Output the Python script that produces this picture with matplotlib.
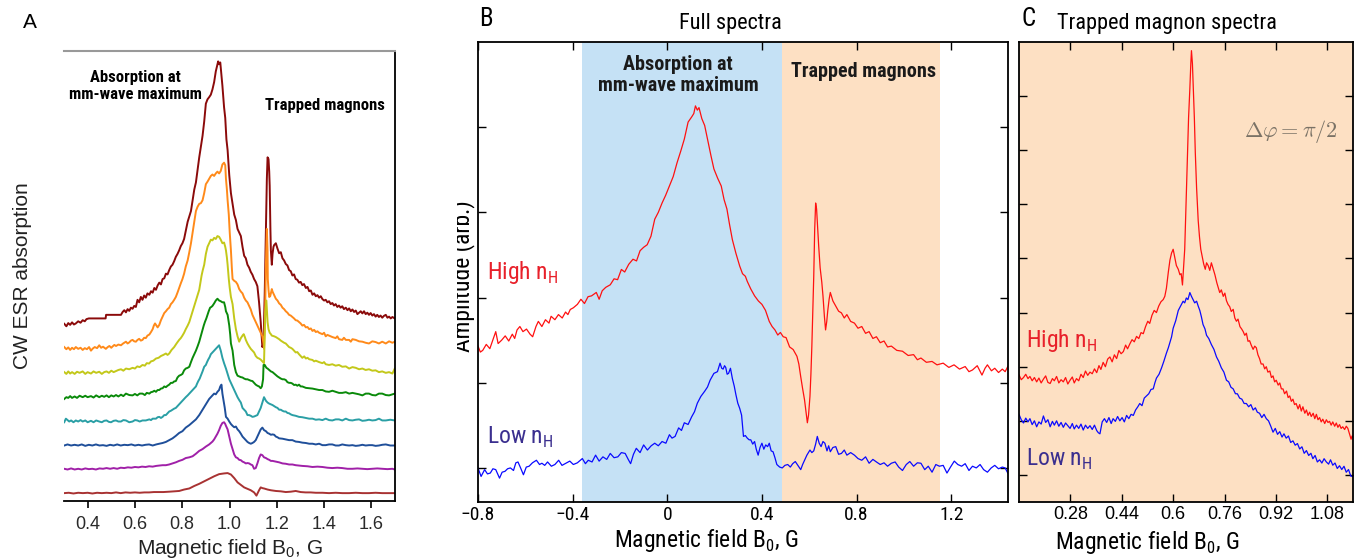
import numpy as np
import matplotlib
matplotlib.use('Agg')
import matplotlib.pyplot as plt
from matplotlib.transforms import Bbox

# ---------------- Data ----------------
# Panel A: CW ESR absorption traces (field in G, arbitrary offset amplitude)
a_fields_ticks = [0.4, 0.6, 0.8, 1.0, 1.2, 1.4, 1.6]
a_tick_labels = ['0.4', '0.6', '0.8', '1.0', '1.2', '1.4', '1.6']

a_trace_1 = [(0.301, 4.95), (0.310, 4.88), (0.318, 4.97), (0.326, 4.92), (0.334, 4.99), (0.342, 4.93),
             (0.350, 4.96), (0.360, 5.02), (0.370, 4.98), (0.379, 5.05), (0.388, 5.02), (0.395, 5.08),
             (0.405, 5.10), (0.440, 5.10), (0.476, 5.10), (0.478, 5.20), (0.541, 5.20), (0.548, 5.28),
             (0.555, 5.33), (0.562, 5.27), (0.569, 5.36), (0.576, 5.31), (0.583, 5.40), (0.590, 5.37),
             (0.597, 5.45), (0.604, 5.42), (0.611, 5.62), (0.618, 5.55), (0.625, 5.70), (0.632, 5.62),
             (0.639, 5.74), (0.646, 5.68), (0.653, 5.80), (0.661, 5.76), (0.668, 5.86), (0.675, 5.82),
             (0.682, 5.95), (0.689, 5.90), (0.696, 6.02), (0.703, 6.10), (0.710, 6.05), (0.717, 6.20),
             (0.724, 6.22), (0.731, 6.35), (0.738, 6.33), (0.745, 6.45), (0.752, 6.55), (0.759, 6.60),
             (0.766, 6.70), (0.773, 6.82), (0.780, 6.90), (0.787, 7.00), (0.794, 7.12), (0.801, 7.20),
             (0.808, 7.32), (0.815, 7.55), (0.823, 7.80), (0.830, 7.95), (0.837, 8.10), (0.844, 8.40),
             (0.851, 8.70), (0.858, 8.90), (0.865, 9.25), (0.872, 9.60), (0.879, 9.90), (0.886, 10.20),
             (0.893, 10.60), (0.900, 11.10), (0.907, 11.22), (0.914, 11.28), (0.921, 11.35), (0.928, 11.50),
             (0.935, 11.70), (0.942, 12.00), (0.949, 12.20), (0.952, 12.28), (0.956, 12.20), (0.961, 12.25),
             (0.966, 11.90), (0.970, 11.60), (0.977, 11.00), (0.982, 10.70), (0.987, 10.10), (0.992, 9.80),
             (0.999, 9.10), (1.006, 8.60), (1.013, 8.30), (1.020, 8.00), (1.027, 7.85), (1.034, 7.60),
             (1.041, 7.50), (1.048, 7.40), (1.055, 7.10), (1.062, 6.85), (1.069, 6.78), (1.076, 6.60),
             (1.083, 6.52), (1.090, 6.40), (1.097, 6.32), (1.104, 6.20), (1.111, 6.12), (1.118, 6.00),
             (1.125, 5.55), (1.132, 5.00), (1.137, 4.50), (1.139, 4.30), (1.144, 4.40), (1.149, 5.80),
             (1.154, 7.50), (1.158, 9.00), (1.161, 9.60), (1.165, 9.55), (1.168, 9.20), (1.170, 8.80),
             (1.173, 7.60), (1.175, 7.00), (1.179, 6.60), (1.182, 6.90), (1.186, 7.10), (1.189, 7.15),
             (1.196, 7.20), (1.203, 7.05), (1.210, 6.92), (1.217, 6.95), (1.224, 6.78), (1.231, 6.72),
             (1.238, 6.62), (1.245, 6.58), (1.252, 6.45), (1.259, 6.42), (1.266, 6.30), (1.273, 6.33),
             (1.280, 6.20), (1.287, 6.18), (1.294, 6.10), (1.301, 6.12), (1.308, 6.03), (1.315, 6.06),
             (1.323, 5.95), (1.330, 5.98), (1.337, 5.86), (1.344, 5.88), (1.351, 5.76), (1.358, 5.80),
             (1.365, 5.72), (1.372, 5.75), (1.379, 5.68), (1.386, 5.72), (1.393, 5.64), (1.400, 5.60),
             (1.407, 5.62), (1.414, 5.55), (1.421, 5.58), (1.428, 5.50), (1.435, 5.53), (1.442, 5.46),
             (1.449, 5.50), (1.456, 5.42), (1.463, 5.46), (1.470, 5.40), (1.477, 5.44), (1.484, 5.36),
             (1.492, 5.40), (1.499, 5.33), (1.506, 5.38), (1.513, 5.30), (1.520, 5.35), (1.527, 5.28),
             (1.534, 5.32), (1.541, 5.22), (1.548, 5.26), (1.555, 5.30), (1.562, 5.24), (1.569, 5.30),
             (1.576, 5.22), (1.583, 5.26), (1.590, 5.20), (1.597, 5.25), (1.604, 5.18), (1.611, 5.22),
             (1.618, 5.15), (1.625, 5.20), (1.632, 5.14), (1.639, 5.18), (1.646, 5.12), (1.653, 5.17),
             (1.661, 5.20), (1.668, 5.12), (1.675, 5.15), (1.682, 5.10), (1.689, 5.14), (1.699, 5.10)]

a_trace_2 = [(0.301, 4.30), (0.310, 4.24), (0.318, 4.29), (0.326, 4.22), (0.334, 4.28), (0.342, 4.24),
             (0.350, 4.30), (0.360, 4.25), (0.370, 4.28), (0.379, 4.22), (0.388, 4.27), (0.397, 4.24),
             (0.406, 4.30), (0.414, 4.20), (0.422, 4.26), (0.430, 4.30), (0.440, 4.27), (0.449, 4.35),
             (0.457, 4.28), (0.465, 4.31), (0.477, 4.25), (0.485, 4.30), (0.492, 4.33), (0.500, 4.28),
             (0.506, 4.32), (0.513, 4.36), (0.520, 4.33), (0.530, 4.37), (0.541, 4.35), (0.550, 4.40),
             (0.562, 4.45), (0.569, 4.40), (0.576, 4.43), (0.583, 4.48), (0.590, 4.50), (0.597, 4.46),
             (0.604, 4.45), (0.611, 4.50), (0.618, 4.53), (0.625, 4.48), (0.632, 4.50), (0.639, 4.56),
             (0.646, 4.55), (0.653, 4.62), (0.661, 4.65), (0.668, 4.72), (0.675, 4.80), (0.680, 4.90),
             (0.685, 4.96), (0.689, 4.92), (0.696, 4.85), (0.703, 4.92), (0.710, 5.05), (0.717, 5.15),
             (0.724, 5.25), (0.731, 5.30), (0.738, 5.36), (0.745, 5.40), (0.752, 5.50), (0.759, 5.55),
             (0.766, 5.62), (0.773, 5.70), (0.780, 5.82), (0.787, 5.95), (0.794, 6.08), (0.801, 6.20),
             (0.808, 6.35), (0.815, 6.55), (0.823, 6.72), (0.830, 6.95), (0.837, 7.20), (0.844, 7.50),
             (0.851, 7.80), (0.858, 8.10), (0.865, 8.22), (0.872, 8.30), (0.879, 8.32), (0.886, 8.40),
             (0.893, 8.60), (0.900, 8.85), (0.907, 8.92), (0.914, 9.00), (0.921, 9.08), (0.928, 9.12),
             (0.935, 9.08), (0.942, 9.15), (0.949, 9.20), (0.956, 9.15), (0.963, 9.22), (0.970, 9.40),
             (0.977, 9.45), (0.982, 9.38), (0.985, 9.00), (0.989, 8.70), (0.992, 8.40), (0.997, 8.00),
             (1.001, 7.50), (1.006, 7.00), (1.010, 6.50), (1.013, 6.20), (1.020, 6.15), (1.027, 6.12),
             (1.034, 6.05), (1.041, 5.92), (1.048, 5.85), (1.055, 5.80), (1.062, 5.68), (1.069, 5.60),
             (1.076, 5.55), (1.083, 5.45), (1.090, 5.35), (1.097, 5.20), (1.104, 5.10), (1.111, 5.00),
             (1.118, 4.90), (1.125, 4.80), (1.132, 4.70), (1.139, 4.60), (1.144, 4.40), (1.146, 4.25),
             (1.151, 5.40), (1.154, 6.60), (1.158, 7.60), (1.161, 7.00), (1.162, 6.20), (1.165, 5.90),
             (1.168, 5.70), (1.172, 5.72), (1.175, 5.80), (1.179, 5.92), (1.182, 5.85), (1.189, 5.75),
             (1.196, 5.65), (1.203, 5.60), (1.210, 5.52), (1.217, 5.48), (1.224, 5.40), (1.231, 5.36),
             (1.238, 5.30), (1.245, 5.26), (1.252, 5.20), (1.259, 5.18), (1.266, 5.14), (1.273, 5.10),
             (1.280, 5.05), (1.287, 5.04), (1.294, 5.00), (1.301, 4.96), (1.308, 4.90), (1.315, 4.92),
             (1.323, 4.85), (1.330, 4.86), (1.337, 4.80), (1.344, 4.82), (1.351, 4.75), (1.358, 4.78),
             (1.365, 4.72), (1.372, 4.74), (1.379, 4.70), (1.393, 4.66), (1.400, 4.70), (1.407, 4.60),
             (1.414, 4.64), (1.421, 4.62), (1.435, 4.58), (1.449, 4.55), (1.456, 4.60), (1.463, 4.52),
             (1.477, 4.50), (1.484, 4.56), (1.492, 4.50), (1.506, 4.50), (1.513, 4.45), (1.520, 4.52),
             (1.534, 4.50), (1.548, 4.46), (1.562, 4.45), (1.576, 4.42), (1.590, 4.40), (1.604, 4.46),
             (1.618, 4.44), (1.632, 4.40), (1.646, 4.45), (1.661, 4.40), (1.675, 4.46), (1.689, 4.42),
             (1.699, 4.45)]

a_trace_3 = [(0.301, 3.60), (0.310, 3.55), (0.318, 3.62), (0.326, 3.56), (0.334, 3.60), (0.345, 3.55),
             (0.355, 3.61), (0.366, 3.58), (0.379, 3.62), (0.390, 3.55), (0.400, 3.60), (0.414, 3.56),
             (0.425, 3.62), (0.436, 3.58), (0.449, 3.61), (0.460, 3.55), (0.470, 3.60), (0.480, 3.62),
             (0.490, 3.58), (0.500, 3.64), (0.510, 3.60), (0.520, 3.63), (0.530, 3.66), (0.541, 3.68),
             (0.551, 3.64), (0.562, 3.70), (0.576, 3.68), (0.590, 3.72), (0.600, 3.70), (0.610, 3.76),
             (0.620, 3.74), (0.632, 3.80), (0.642, 3.78), (0.650, 3.85), (0.660, 3.84), (0.668, 3.90),
             (0.678, 3.92), (0.689, 3.98), (0.700, 4.00), (0.710, 4.05), (0.720, 4.08), (0.731, 4.12),
             (0.738, 4.08), (0.745, 4.12), (0.755, 4.22), (0.766, 4.30), (0.776, 4.40), (0.787, 4.50),
             (0.794, 4.55), (0.801, 4.62), (0.808, 4.70), (0.815, 4.80), (0.823, 4.90), (0.830, 5.00),
             (0.837, 5.15), (0.844, 5.30), (0.851, 5.45), (0.858, 5.60), (0.865, 5.75), (0.872, 5.90),
             (0.877, 6.10), (0.882, 6.30), (0.887, 6.45), (0.893, 6.60), (0.900, 6.90), (0.907, 7.10),
             (0.914, 7.20), (0.921, 7.30), (0.928, 7.28), (0.935, 7.35), (0.942, 7.32), (0.949, 7.40),
             (0.956, 7.38), (0.963, 7.30), (0.970, 7.20), (0.977, 7.22), (0.982, 7.10), (0.985, 7.00),
             (0.989, 6.80), (0.992, 6.60), (0.997, 6.20), (1.001, 5.95), (1.006, 5.70), (1.013, 5.50),
             (1.020, 5.10), (1.027, 4.80), (1.034, 4.60), (1.041, 4.45), (1.048, 4.55), (1.055, 4.62),
             (1.060, 4.66), (1.065, 4.58), (1.069, 4.50), (1.076, 4.40), (1.083, 4.32), (1.090, 4.25),
             (1.097, 4.20), (1.104, 4.15), (1.111, 4.05), (1.118, 4.00), (1.125, 3.98), (1.132, 3.95),
             (1.139, 3.90), (1.146, 3.85), (1.149, 4.60), (1.151, 5.20), (1.156, 5.60), (1.161, 5.00),
             (1.165, 4.80), (1.170, 4.70), (1.175, 4.66), (1.179, 4.62), (1.189, 4.60), (1.196, 4.58),
             (1.203, 4.55), (1.210, 4.52), (1.217, 4.48), (1.224, 4.45), (1.231, 4.42), (1.238, 4.40),
             (1.245, 4.35), (1.252, 4.30), (1.259, 4.28), (1.266, 4.25), (1.273, 4.20), (1.280, 4.15),
             (1.287, 4.16), (1.294, 4.10), (1.301, 4.05), (1.308, 4.00), (1.316, 4.04), (1.323, 3.98),
             (1.330, 4.00), (1.337, 3.96), (1.351, 3.94), (1.358, 3.90), (1.365, 3.92), (1.379, 3.88),
             (1.393, 3.85), (1.400, 3.88), (1.407, 3.82), (1.421, 3.80), (1.435, 3.82), (1.449, 3.78),
             (1.463, 3.80), (1.477, 3.75), (1.492, 3.76), (1.506, 3.70), (1.520, 3.74), (1.534, 3.72),
             (1.548, 3.68), (1.562, 3.70), (1.576, 3.66), (1.590, 3.68), (1.604, 3.64), (1.618, 3.65),
             (1.632, 3.60), (1.646, 3.62), (1.661, 3.58), (1.675, 3.60), (1.689, 3.56), (1.699, 3.70)]

a_trace_4 = [(0.301, 2.85), (0.310, 2.90), (0.318, 2.88), (0.326, 2.93), (0.334, 2.88), (0.345, 2.92),
             (0.355, 2.88), (0.366, 2.94), (0.379, 2.90), (0.390, 2.94), (0.400, 2.90), (0.414, 2.93),
             (0.425, 2.89), (0.436, 2.95), (0.449, 2.90), (0.460, 2.94), (0.470, 2.91), (0.480, 2.95),
             (0.490, 2.90), (0.500, 2.95), (0.510, 2.92), (0.520, 2.96), (0.530, 2.92), (0.541, 2.97),
             (0.551, 2.93), (0.562, 3.00), (0.576, 2.96), (0.590, 2.95), (0.600, 2.99), (0.610, 2.95),
             (0.620, 3.00), (0.632, 3.00), (0.642, 2.96), (0.650, 3.02), (0.661, 3.00), (0.668, 3.04),
             (0.675, 3.05), (0.682, 3.08), (0.689, 3.05), (0.696, 3.10), (0.703, 3.10), (0.710, 3.14),
             (0.717, 3.15), (0.724, 3.20), (0.731, 3.18), (0.738, 3.22), (0.745, 3.25), (0.752, 3.30),
             (0.759, 3.30), (0.766, 3.34), (0.773, 3.35), (0.780, 3.45), (0.787, 3.50), (0.794, 3.52),
             (0.801, 3.55), (0.808, 3.65), (0.815, 3.70), (0.823, 3.72), (0.830, 3.75), (0.837, 3.88),
             (0.844, 4.00), (0.851, 4.10), (0.858, 4.20), (0.865, 4.32), (0.872, 4.45), (0.879, 4.62),
             (0.886, 4.80), (0.891, 4.90), (0.896, 5.00), (0.902, 5.10), (0.907, 5.20), (0.912, 5.30),
             (0.918, 5.40), (0.923, 5.42), (0.928, 5.45), (0.935, 5.52), (0.942, 5.60), (0.949, 5.65),
             (0.956, 5.60), (0.963, 5.58), (0.970, 5.55), (0.977, 5.55), (0.982, 5.42), (0.985, 5.30),
             (0.992, 5.20), (0.999, 4.90), (1.003, 4.65), (1.006, 4.40), (1.013, 4.20), (1.020, 3.80),
             (1.027, 3.60), (1.034, 3.50), (1.041, 3.48), (1.048, 3.46), (1.055, 3.45), (1.062, 3.42),
             (1.069, 3.40), (1.076, 3.40), (1.083, 3.38), (1.090, 3.36), (1.097, 3.35), (1.104, 3.30),
             (1.111, 3.25), (1.118, 3.22), (1.125, 3.20), (1.132, 3.15), (1.137, 3.20), (1.142, 3.40),
             (1.144, 3.80), (1.149, 3.80), (1.156, 3.72), (1.161, 3.70), (1.168, 3.66), (1.175, 3.62),
             (1.182, 3.60), (1.189, 3.56), (1.196, 3.52), (1.203, 3.48), (1.210, 3.45), (1.217, 3.42),
             (1.224, 3.40), (1.231, 3.40), (1.238, 3.38), (1.245, 3.32), (1.252, 3.30), (1.259, 3.30),
             (1.266, 3.28), (1.273, 3.24), (1.280, 3.25), (1.287, 3.22), (1.294, 3.25), (1.301, 3.20),
             (1.308, 3.20), (1.323, 3.16), (1.337, 3.15), (1.351, 3.14), (1.365, 3.12), (1.379, 3.10),
             (1.393, 3.10), (1.407, 3.06), (1.421, 3.05), (1.435, 3.08), (1.449, 3.05), (1.463, 3.02),
             (1.477, 3.02), (1.492, 3.04), (1.506, 3.00), (1.520, 3.02), (1.534, 3.00), (1.548, 2.98),
             (1.562, 2.95), (1.576, 3.00), (1.590, 3.00), (1.604, 2.96), (1.618, 2.95), (1.632, 3.00),
             (1.646, 3.00), (1.661, 2.96), (1.675, 2.95), (1.689, 2.98), (1.699, 3.00)]

a_trace_5 = [(0.301, 2.20), (0.308, 2.30), (0.315, 2.26), (0.322, 2.22), (0.330, 2.25), (0.340, 2.20),
             (0.350, 2.25), (0.360, 2.22), (0.370, 2.26), (0.379, 2.22), (0.390, 2.25), (0.400, 2.20),
             (0.414, 2.24), (0.425, 2.20), (0.436, 2.25), (0.449, 2.22), (0.460, 2.20), (0.470, 2.24),
             (0.480, 2.25), (0.490, 2.21), (0.499, 2.20), (0.510, 2.24), (0.520, 2.25), (0.530, 2.22),
             (0.541, 2.22), (0.551, 2.26), (0.562, 2.25), (0.576, 2.20), (0.590, 2.22), (0.600, 2.26),
             (0.610, 2.25), (0.620, 2.22), (0.632, 2.25), (0.646, 2.25), (0.661, 2.28), (0.668, 2.26),
             (0.675, 2.30), (0.689, 2.30), (0.696, 2.34), (0.703, 2.35), (0.710, 2.32), (0.717, 2.35),
             (0.724, 2.40), (0.731, 2.40), (0.738, 2.45), (0.745, 2.50), (0.752, 2.52), (0.759, 2.55),
             (0.766, 2.58), (0.773, 2.60), (0.780, 2.65), (0.787, 2.70), (0.794, 2.75), (0.801, 2.80),
             (0.808, 2.85), (0.815, 2.90), (0.823, 2.95), (0.830, 3.00), (0.837, 3.05), (0.844, 3.10),
             (0.851, 3.15), (0.858, 3.20), (0.863, 3.28), (0.868, 3.35), (0.874, 3.42), (0.879, 3.50),
             (0.886, 3.62), (0.893, 3.75), (0.900, 3.80), (0.905, 3.88), (0.910, 3.95), (0.916, 4.02),
             (0.921, 4.10), (0.928, 4.15), (0.935, 4.20), (0.942, 4.25), (0.949, 4.30), (0.956, 4.35),
             (0.963, 4.20), (0.970, 4.00), (0.977, 3.85), (0.985, 3.70), (0.992, 3.55), (0.999, 3.40),
             (1.006, 3.30), (1.013, 3.20), (1.020, 3.10), (1.027, 3.00), (1.034, 2.90), (1.041, 2.82),
             (1.048, 2.75), (1.055, 2.60), (1.062, 2.55), (1.069, 2.50), (1.076, 2.40), (1.083, 2.40),
             (1.090, 2.38), (1.097, 2.35), (1.104, 2.36), (1.111, 2.38), (1.118, 2.40), (1.125, 2.50),
             (1.132, 2.60), (1.139, 2.75), (1.146, 2.90), (1.150, 2.85), (1.154, 2.80), (1.161, 2.75),
             (1.168, 2.72), (1.175, 2.70), (1.182, 2.68), (1.189, 2.65), (1.196, 2.62), (1.203, 2.60),
             (1.210, 2.55), (1.217, 2.55), (1.224, 2.52), (1.231, 2.50), (1.238, 2.50), (1.245, 2.46),
             (1.252, 2.45), (1.259, 2.42), (1.266, 2.40), (1.280, 2.38), (1.294, 2.35), (1.308, 2.34),
             (1.323, 2.32), (1.337, 2.30), (1.351, 2.30), (1.365, 2.27), (1.379, 2.28), (1.393, 2.26),
             (1.407, 2.30), (1.421, 2.26), (1.435, 2.25), (1.449, 2.28), (1.463, 2.28), (1.477, 2.25),
             (1.492, 2.30), (1.506, 2.26), (1.520, 2.25), (1.534, 2.27), (1.548, 2.28), (1.562, 2.24),
             (1.576, 2.25), (1.590, 2.27), (1.604, 2.25), (1.618, 2.26), (1.632, 2.30), (1.646, 2.25),
             (1.661, 2.25), (1.680, 2.27), (1.699, 2.25)]

a_trace_6 = [(0.301, 1.55), (0.315, 1.58), (0.330, 1.55), (0.345, 1.57), (0.360, 1.55), (0.375, 1.58),
             (0.390, 1.54), (0.405, 1.57), (0.420, 1.55), (0.435, 1.58), (0.450, 1.55), (0.465, 1.56),
             (0.480, 1.54), (0.495, 1.57), (0.510, 1.55), (0.525, 1.58), (0.540, 1.55), (0.555, 1.57),
             (0.570, 1.56), (0.585, 1.58), (0.600, 1.55), (0.615, 1.57), (0.630, 1.55), (0.645, 1.57),
             (0.660, 1.58), (0.675, 1.55), (0.690, 1.58), (0.703, 1.60), (0.717, 1.62), (0.731, 1.65),
             (0.745, 1.70), (0.759, 1.75), (0.773, 1.82), (0.787, 1.90), (0.801, 1.95), (0.815, 2.05),
             (0.830, 2.12), (0.844, 2.20), (0.858, 2.28), (0.872, 2.40), (0.886, 2.55), (0.900, 2.70),
             (0.914, 2.85), (0.928, 2.95), (0.935, 3.00), (0.942, 2.98), (0.949, 3.05), (0.956, 3.10),
             (0.961, 3.20), (0.966, 3.25), (0.970, 3.00), (0.975, 2.80), (0.980, 2.60), (0.985, 2.35),
             (0.992, 2.30), (0.999, 2.22), (1.006, 2.15), (1.013, 2.10), (1.020, 2.06), (1.027, 2.08),
             (1.034, 2.00), (1.041, 1.95), (1.048, 1.88), (1.055, 1.80), (1.062, 1.75), (1.069, 1.70),
             (1.076, 1.65), (1.083, 1.62), (1.090, 1.60), (1.097, 1.62), (1.104, 1.65), (1.111, 1.70),
             (1.118, 1.80), (1.125, 1.90), (1.132, 2.00), (1.139, 2.05), (1.146, 1.98), (1.154, 1.95),
             (1.161, 1.90), (1.168, 1.88), (1.175, 1.85), (1.182, 1.86), (1.189, 1.85), (1.196, 1.80),
             (1.203, 1.78), (1.210, 1.75), (1.224, 1.74), (1.238, 1.72), (1.252, 1.70), (1.266, 1.70),
             (1.280, 1.66), (1.294, 1.65), (1.308, 1.63), (1.323, 1.62), (1.337, 1.60), (1.351, 1.60),
             (1.365, 1.58), (1.379, 1.60), (1.393, 1.56), (1.407, 1.56), (1.421, 1.58), (1.435, 1.58),
             (1.449, 1.55), (1.463, 1.55), (1.477, 1.58), (1.492, 1.56), (1.506, 1.55), (1.520, 1.56),
             (1.534, 1.54), (1.548, 1.55), (1.562, 1.57), (1.576, 1.55), (1.590, 1.56), (1.604, 1.56),
             (1.618, 1.54), (1.632, 1.55), (1.646, 1.57), (1.661, 1.58), (1.680, 1.55), (1.699, 1.55)]

a_trace_7 = [(0.301, 0.90), (0.315, 0.88), (0.330, 0.91), (0.345, 0.88), (0.360, 0.90), (0.375, 0.88),
             (0.390, 0.91), (0.405, 0.89), (0.420, 0.90), (0.435, 0.88), (0.450, 0.91), (0.465, 0.90),
             (0.480, 0.92), (0.495, 0.90), (0.510, 0.92), (0.525, 0.90), (0.540, 0.93), (0.555, 0.92),
             (0.570, 0.94), (0.585, 0.93), (0.600, 0.95), (0.615, 0.94), (0.630, 0.96), (0.645, 0.95),
             (0.660, 0.97), (0.675, 0.96), (0.690, 0.98), (0.703, 0.99), (0.717, 1.00), (0.731, 1.00),
             (0.745, 1.02), (0.759, 1.05), (0.773, 1.08), (0.787, 1.12), (0.801, 1.15), (0.815, 1.20),
             (0.830, 1.22), (0.844, 1.25), (0.858, 1.32), (0.872, 1.40), (0.886, 1.45), (0.900, 1.52),
             (0.914, 1.58), (0.921, 1.62), (0.928, 1.66), (0.935, 1.72), (0.942, 1.80), (0.949, 1.88),
             (0.956, 1.98), (0.963, 2.10), (0.970, 2.18), (0.977, 2.20), (0.982, 2.15), (0.985, 2.10),
             (0.992, 2.00), (0.999, 1.80), (1.006, 1.60), (1.013, 1.45), (1.020, 1.30), (1.027, 1.22),
             (1.034, 1.20), (1.041, 1.15), (1.048, 1.14), (1.055, 1.10), (1.062, 1.08), (1.069, 1.05),
             (1.076, 1.06), (1.083, 1.05), (1.090, 1.02), (1.097, 1.00), (1.104, 0.90), (1.111, 0.92),
             (1.118, 1.05), (1.125, 1.20), (1.132, 1.30), (1.139, 1.28), (1.146, 1.22), (1.154, 1.20),
             (1.161, 1.17), (1.168, 1.15), (1.175, 1.12), (1.182, 1.12), (1.196, 1.10), (1.210, 1.08),
             (1.224, 1.05), (1.238, 1.04), (1.252, 1.02), (1.266, 1.02), (1.280, 1.00), (1.294, 0.99),
             (1.308, 0.98), (1.330, 0.97), (1.351, 0.95), (1.372, 0.96), (1.393, 0.95), (1.414, 0.93),
             (1.435, 0.92), (1.456, 0.93), (1.477, 0.92), (1.499, 0.90), (1.520, 0.90), (1.541, 0.91),
             (1.562, 0.90), (1.583, 0.89), (1.604, 0.90), (1.625, 0.91), (1.646, 0.90), (1.668, 0.89),
             (1.689, 0.90), (1.699, 0.88)]

a_trace_8 = [(0.301, 0.22), (0.320, 0.23), (0.340, 0.21), (0.360, 0.23), (0.380, 0.22), (0.400, 0.23),
             (0.420, 0.21), (0.440, 0.23), (0.460, 0.22), (0.480, 0.23), (0.500, 0.22), (0.520, 0.24),
             (0.540, 0.22), (0.560, 0.24), (0.580, 0.23), (0.600, 0.24), (0.620, 0.23), (0.640, 0.24),
             (0.660, 0.24), (0.680, 0.25), (0.700, 0.25), (0.720, 0.25), (0.745, 0.26), (0.766, 0.27),
             (0.787, 0.28), (0.808, 0.32), (0.830, 0.35), (0.851, 0.42), (0.872, 0.48), (0.893, 0.55),
             (0.914, 0.62), (0.935, 0.69), (0.956, 0.75), (0.977, 0.77), (0.992, 0.78), (1.006, 0.74),
             (1.020, 0.64), (1.034, 0.52), (1.048, 0.45), (1.062, 0.38), (1.076, 0.34), (1.090, 0.30),
             (1.104, 0.24), (1.114, 0.15), (1.125, 0.30), (1.132, 0.38), (1.139, 0.36), (1.146, 0.35),
             (1.161, 0.32), (1.175, 0.30), (1.196, 0.28), (1.217, 0.27), (1.238, 0.25), (1.259, 0.26),
             (1.280, 0.28), (1.301, 0.25), (1.322, 0.24), (1.343, 0.24), (1.365, 0.23), (1.393, 0.23),
             (1.421, 0.22), (1.449, 0.23), (1.477, 0.22), (1.506, 0.22), (1.534, 0.23), (1.562, 0.22),
             (1.590, 0.22), (1.618, 0.23), (1.646, 0.22), (1.675, 0.22), (1.699, 0.22)]

a_traces = [a_trace_1, a_trace_2, a_trace_3, a_trace_4, a_trace_5, a_trace_6, a_trace_7, a_trace_8]
a_colors = ['#8b0a0a', '#ff8a1a', '#c3c81a', '#0a8a0a', '#2a9fa5', '#1f4f9a', '#a020a8', '#a83232']

# Panel B: full spectra
b_ticks = [-0.8, -0.4, 0.0, 0.4, 0.8, 1.2]
b_tick_labels = ['\u22120.8', '\u22120.4', '0', '0.4', '0.8', '1.2']
b_blue_band = (-0.36, 0.486)
b_orange_band = (0.486, 1.151)

b_high = [(-0.800, 1.43), (-0.790, 1.36), (-0.780, 1.38), (-0.765, 1.45), (-0.750, 1.40), (-0.735, 1.52),
          (-0.725, 1.60), (-0.715, 1.46), (-0.700, 1.50), (-0.685, 1.55), (-0.670, 1.49), (-0.655, 1.57),
          (-0.645, 1.52), (-0.635, 1.62), (-0.623, 1.66), (-0.610, 1.60), (-0.595, 1.63), (-0.580, 1.57),
          (-0.569, 1.54), (-0.555, 1.66), (-0.545, 1.72), (-0.530, 1.66), (-0.515, 1.74), (-0.500, 1.70),
          (-0.491, 1.78), (-0.475, 1.74), (-0.460, 1.80), (-0.444, 1.76), (-0.430, 1.83), (-0.420, 1.80),
          (-0.410, 1.86), (-0.397, 1.88), (-0.380, 1.92), (-0.365, 1.98), (-0.350, 1.93), (-0.335, 2.01),
          (-0.320, 2.02), (-0.300, 2.06), (-0.288, 1.98), (-0.275, 2.08), (-0.260, 2.12), (-0.241, 2.15),
          (-0.225, 2.22), (-0.210, 2.21), (-0.194, 2.33), (-0.180, 2.30), (-0.163, 2.39), (-0.145, 2.45),
          (-0.130, 2.43), (-0.115, 2.55), (-0.100, 2.59), (-0.085, 2.62), (-0.069, 2.72), (-0.053, 2.92),
          (-0.038, 3.00), (-0.022, 3.11), (-0.007, 3.20), (0.009, 3.31), (0.025, 3.42), (0.041, 3.58),
          (0.057, 3.72), (0.072, 3.86), (0.088, 4.06), (0.103, 4.12), (0.112, 4.16), (0.119, 4.25),
          (0.127, 4.20), (0.134, 4.23), (0.146, 4.10), (0.158, 4.02), (0.173, 3.82), (0.185, 3.66),
          (0.197, 3.51), (0.213, 3.40), (0.228, 3.31), (0.240, 3.15), (0.252, 3.04), (0.263, 2.86),
          (0.275, 2.68), (0.290, 2.52), (0.306, 2.37), (0.318, 2.28), (0.330, 2.25), (0.338, 2.19),
          (0.353, 2.10), (0.369, 2.02), (0.385, 1.96), (0.400, 1.92), (0.415, 1.85), (0.431, 1.72),
          (0.443, 1.66), (0.455, 1.62), (0.467, 1.56), (0.478, 1.59), (0.490, 1.54), (0.502, 1.53),
          (0.517, 1.42), (0.532, 1.39), (0.548, 1.31), (0.556, 1.22), (0.564, 1.07), (0.572, 0.93),
          (0.580, 0.80), (0.586, 0.66), (0.592, 0.53), (0.597, 0.62), (0.603, 0.84), (0.607, 1.10),
          (0.611, 1.43), (0.615, 1.85), (0.619, 2.25), (0.623, 2.80), (0.627, 3.11), (0.631, 3.04),
          (0.635, 2.85), (0.640, 2.60), (0.646, 2.35), (0.653, 2.18), (0.658, 2.02), (0.664, 1.78),
          (0.669, 1.62), (0.674, 1.72), (0.678, 1.84), (0.684, 1.98), (0.689, 2.06), (0.700, 1.96),
          (0.712, 1.90), (0.724, 1.84), (0.736, 1.82), (0.748, 1.76), (0.759, 1.80), (0.775, 1.72),
          (0.791, 1.70), (0.806, 1.64), (0.822, 1.66), (0.838, 1.58), (0.853, 1.60), (0.869, 1.52),
          (0.884, 1.54), (0.900, 1.47), (0.916, 1.49), (0.931, 1.42), (0.947, 1.43), (0.970, 1.38),
          (0.994, 1.37), (1.018, 1.32), (1.041, 1.33), (1.057, 1.27), (1.072, 1.29), (1.095, 1.24),
          (1.119, 1.25), (1.140, 1.21), (1.166, 1.23), (1.190, 1.18), (1.212, 1.21), (1.235, 1.16),
          (1.259, 1.19), (1.275, 1.13), (1.290, 1.15), (1.310, 1.20), (1.330, 1.09), (1.343, 1.17),
          (1.353, 1.21), (1.370, 1.14), (1.384, 1.17), (1.400, 1.12), (1.416, 1.16), (1.428, 1.13),
          (1.439, 1.19)]

b_low = [(-0.800, 0.00), (-0.787, -0.10), (-0.772, -0.02), (-0.760, -0.07), (-0.748, -0.06), (-0.737, -0.01),
         (-0.725, -0.02), (-0.709, -0.12), (-0.698, -0.05), (-0.686, -0.04), (-0.675, -0.01), (-0.663, 0.00),
         (-0.650, -0.03), (-0.640, 0.06), (-0.631, 0.07), (-0.620, 0.00), (-0.608, -0.08), (-0.596, 0.01),
         (-0.584, 0.02), (-0.570, 0.06), (-0.553, 0.09), (-0.540, 0.04), (-0.530, 0.055), (-0.518, 0.03),
         (-0.506, 0.07), (-0.490, 0.02), (-0.475, 0.04), (-0.459, 0.09), (-0.445, 0.03), (-0.428, 0.055),
         (-0.412, 0.08), (-0.397, 0.04), (-0.380, 0.06), (-0.359, 0.11), (-0.346, 0.05), (-0.334, 0.09),
         (-0.318, 0.07), (-0.303, 0.15), (-0.288, 0.08), (-0.272, 0.13), (-0.256, 0.10), (-0.241, 0.17),
         (-0.225, 0.12), (-0.209, 0.13), (-0.194, 0.18), (-0.178, 0.17), (-0.165, 0.10), (-0.155, 0.05),
         (-0.143, 0.16), (-0.131, 0.23), (-0.115, 0.18), (-0.100, 0.27), (-0.084, 0.21), (-0.068, 0.26),
         (-0.053, 0.29), (-0.038, 0.26), (-0.022, 0.31), (-0.006, 0.29), (0.009, 0.39), (0.020, 0.35),
         (0.033, 0.37), (0.048, 0.47), (0.060, 0.44), (0.072, 0.53), (0.088, 0.51), (0.103, 0.60),
         (0.115, 0.66), (0.127, 0.76), (0.142, 0.84), (0.158, 0.90), (0.170, 0.95), (0.181, 1.03),
         (0.197, 1.11), (0.212, 1.13), (0.223, 1.23), (0.230, 1.17), (0.236, 1.16), (0.242, 1.20),
         (0.247, 1.18), (0.253, 1.10), (0.259, 1.11), (0.267, 1.17), (0.275, 1.05), (0.283, 0.96),
         (0.290, 0.86), (0.298, 0.76), (0.306, 0.70), (0.314, 0.62), (0.318, 0.50), (0.322, 0.37),
         (0.330, 0.38), (0.338, 0.35), (0.346, 0.33), (0.353, 0.33), (0.361, 0.28), (0.369, 0.31),
         (0.376, 0.22), (0.384, 0.15), (0.392, 0.24), (0.400, 0.29), (0.408, 0.22), (0.416, 0.27),
         (0.424, 0.25), (0.431, 0.29), (0.439, 0.20), (0.447, 0.19), (0.455, 0.12), (0.463, 0.04),
         (0.475, 0.01), (0.486, 0.00), (0.497, 0.03), (0.509, 0.04), (0.520, 0.01), (0.530, 0.05),
         (0.541, 0.075), (0.552, 0.03), (0.564, -0.02), (0.572, 0.04), (0.580, 0.09), (0.590, 0.15),
         (0.603, 0.21), (0.611, 0.18), (0.619, 0.20), (0.627, 0.28), (0.634, 0.37), (0.642, 0.29),
         (0.650, 0.25), (0.658, 0.31), (0.666, 0.29), (0.675, 0.20), (0.682, 0.26), (0.689, 0.19),
         (0.700, 0.24), (0.712, 0.25), (0.724, 0.16), (0.736, 0.17), (0.748, 0.21), (0.759, 0.15),
         (0.775, 0.18), (0.791, 0.15), (0.806, 0.11), (0.822, 0.09), (0.838, 0.13), (0.853, 0.055),
         (0.869, 0.10), (0.884, 0.07), (0.900, 0.04), (0.916, 0.06), (0.931, 0.02), (0.947, 0.055),
         (0.963, 0.07), (0.978, 0.01), (0.994, -0.03), (1.010, 0.04), (1.025, 0.075), (1.041, 0.02),
         (1.057, 0.06), (1.072, 0.055), (1.088, -0.02), (1.103, 0.02), (1.119, -0.05), (1.135, 0.04),
         (1.150, 0.02), (1.166, 0.03), (1.182, -0.06), (1.197, 0.01), (1.213, 0.08), (1.228, 0.04),
         (1.244, 0.02), (1.259, 0.05), (1.275, -0.03), (1.290, 0.02), (1.306, 0.00), (1.322, 0.04),
         (1.337, -0.02), (1.353, -0.05), (1.369, 0.00), (1.384, 0.03), (1.400, -0.01), (1.416, 0.01),
         (1.428, 0.00), (1.439, -0.06)]

# Panel C: trapped magnon spectra
c_ticks = [0.28, 0.44, 0.6, 0.76, 0.92, 1.08]
c_tick_labels = ['0.28', '0.44', '0.6', '0.76', '0.92', '1.08']

c_high = [(0.120, 1.85), (0.127, 1.76), (0.134, 1.80), (0.141, 1.86), (0.148, 1.78), (0.154, 1.82),
          (0.161, 1.74), (0.168, 1.80), (0.175, 1.72), (0.182, 1.79), (0.189, 1.70), (0.196, 1.77),
          (0.203, 1.83), (0.210, 1.71), (0.217, 1.69), (0.224, 1.78), (0.230, 1.74), (0.237, 1.82),
          (0.244, 1.70), (0.251, 1.76), (0.258, 1.72), (0.265, 1.80), (0.272, 1.68), (0.279, 1.75),
          (0.286, 1.81), (0.292, 1.70), (0.299, 1.78), (0.306, 1.74), (0.313, 1.86), (0.320, 1.80),
          (0.327, 1.92), (0.334, 1.84), (0.341, 1.90), (0.348, 1.87), (0.355, 1.96), (0.362, 1.89),
          (0.369, 2.02), (0.375, 1.95), (0.382, 2.08), (0.389, 2.00), (0.396, 2.14), (0.403, 2.18),
          (0.410, 2.09), (0.417, 2.22), (0.424, 2.15), (0.431, 2.30), (0.438, 2.24), (0.445, 2.28),
          (0.452, 2.40), (0.458, 2.33), (0.465, 2.42), (0.472, 2.50), (0.479, 2.46), (0.486, 2.56),
          (0.493, 2.52), (0.500, 2.63), (0.507, 2.61), (0.514, 2.74), (0.521, 2.84), (0.527, 2.80),
          (0.534, 2.95), (0.541, 3.04), (0.548, 3.00), (0.555, 3.12), (0.562, 3.20), (0.569, 3.24),
          (0.574, 3.30), (0.579, 3.45), (0.585, 3.75), (0.590, 3.97), (0.595, 4.10), (0.600, 4.17),
          (0.605, 4.02), (0.610, 3.87), (0.616, 3.80), (0.621, 3.70), (0.625, 3.72), (0.629, 3.51),
          (0.632, 3.80), (0.636, 4.17), (0.640, 5.00), (0.644, 5.82), (0.648, 6.60), (0.652, 7.14),
          (0.655, 7.60), (0.657, 7.84), (0.660, 7.60), (0.662, 7.28), (0.666, 6.60), (0.669, 5.95),
          (0.673, 5.30), (0.678, 4.70), (0.682, 4.40), (0.686, 4.17), (0.690, 4.05), (0.695, 3.90),
          (0.700, 3.80), (0.704, 3.92), (0.709, 3.87), (0.714, 3.78), (0.719, 3.92), (0.724, 3.82),
          (0.730, 3.70), (0.736, 3.55), (0.741, 3.45), (0.745, 3.37), (0.750, 3.42), (0.756, 3.30),
          (0.761, 3.36), (0.766, 3.22), (0.771, 3.15), (0.776, 3.11), (0.781, 3.02), (0.787, 3.06),
          (0.792, 2.90), (0.797, 2.84), (0.802, 2.88), (0.808, 2.74), (0.813, 2.70), (0.818, 2.65),
          (0.823, 2.58), (0.828, 2.62), (0.833, 2.47), (0.838, 2.48), (0.843, 2.40), (0.849, 2.32),
          (0.854, 2.38), (0.859, 2.35), (0.864, 2.22), (0.869, 2.15), (0.874, 2.05), (0.880, 2.05),
          (0.885, 1.96), (0.890, 2.00), (0.895, 1.90), (0.901, 1.92), (0.906, 1.80), (0.911, 1.83),
          (0.916, 1.72), (0.921, 1.75), (0.927, 1.66), (0.932, 1.70), (0.937, 1.59), (0.942, 1.59),
          (0.947, 1.50), (0.953, 1.55), (0.958, 1.43), (0.963, 1.46), (0.968, 1.36), (0.973, 1.40),
          (0.978, 1.30), (0.983, 1.32), (0.989, 1.22), (0.994, 1.30), (0.999, 1.18), (1.004, 1.26),
          (1.010, 1.14), (1.015, 1.20), (1.020, 1.10), (1.025, 1.16), (1.030, 1.08), (1.036, 1.14),
          (1.041, 1.04), (1.046, 1.12), (1.051, 1.02), (1.056, 1.06), (1.061, 0.98), (1.066, 1.03),
          (1.072, 0.95), (1.077, 1.02), (1.082, 0.97), (1.087, 0.99), (1.092, 0.92), (1.097, 0.98),
          (1.103, 0.90), (1.108, 0.96), (1.113, 0.88), (1.118, 0.93), (1.123, 0.86), (1.128, 0.89),
          (1.134, 0.84), (1.139, 0.90), (1.144, 0.86), (1.149, 0.76), (1.154, 0.66), (1.157, 0.72),
          (1.160, 0.70)]

c_low = [(0.120, 1.12), (0.127, 1.02), (0.134, 0.96), (0.141, 1.05), (0.148, 0.98), (0.154, 1.04),
         (0.161, 0.93), (0.168, 1.00), (0.175, 0.89), (0.182, 0.98), (0.189, 0.94), (0.196, 1.09),
         (0.203, 0.97), (0.210, 1.02), (0.217, 0.89), (0.224, 0.99), (0.230, 0.92), (0.237, 1.00),
         (0.244, 0.90), (0.251, 0.97), (0.258, 0.88), (0.265, 0.96), (0.272, 0.91), (0.279, 0.86),
         (0.286, 0.95), (0.292, 0.85), (0.299, 0.92), (0.306, 0.86), (0.313, 0.94), (0.320, 0.83),
         (0.327, 0.92), (0.334, 0.86), (0.341, 0.91), (0.348, 0.84), (0.355, 0.92), (0.362, 0.82),
         (0.367, 0.78), (0.372, 0.76), (0.379, 0.98), (0.386, 1.04), (0.393, 0.97), (0.400, 1.06),
         (0.407, 0.95), (0.413, 1.04), (0.420, 0.99), (0.427, 1.08), (0.434, 1.00), (0.441, 1.06),
         (0.448, 0.98), (0.455, 1.10), (0.462, 1.04), (0.469, 1.12), (0.476, 1.10), (0.483, 1.20),
         (0.490, 1.26), (0.496, 1.32), (0.503, 1.28), (0.510, 1.42), (0.517, 1.46), (0.524, 1.50),
         (0.531, 1.58), (0.538, 1.59), (0.543, 1.70), (0.548, 1.79), (0.556, 1.86), (0.564, 1.98),
         (0.571, 2.10), (0.579, 2.25), (0.585, 2.35), (0.590, 2.45), (0.595, 2.55), (0.600, 2.71),
         (0.608, 2.85), (0.616, 3.04), (0.623, 3.12), (0.631, 3.21), (0.636, 3.18), (0.641, 3.27),
         (0.646, 3.24), (0.652, 3.37), (0.657, 3.30), (0.662, 3.24), (0.667, 3.18), (0.673, 3.21),
         (0.678, 3.12), (0.683, 3.04), (0.688, 2.92), (0.693, 2.78), (0.699, 2.70), (0.704, 2.58),
         (0.711, 2.52), (0.719, 2.41), (0.727, 2.32), (0.735, 2.18), (0.742, 2.10), (0.750, 1.98),
         (0.758, 1.90), (0.766, 1.75), (0.773, 1.72), (0.780, 1.62), (0.787, 1.59), (0.794, 1.50),
         (0.800, 1.50), (0.807, 1.42), (0.814, 1.40), (0.821, 1.32), (0.828, 1.32), (0.835, 1.26),
         (0.842, 1.30), (0.849, 1.20), (0.856, 1.24), (0.862, 1.16), (0.869, 1.14), (0.876, 1.06),
         (0.883, 1.12), (0.890, 1.04), (0.897, 1.00), (0.904, 0.90), (0.911, 0.79), (0.918, 0.86),
         (0.925, 0.75), (0.932, 0.80), (0.939, 0.70), (0.945, 0.76), (0.952, 0.68), (0.959, 0.72),
         (0.966, 0.60), (0.973, 0.63), (0.980, 0.55), (0.987, 0.58), (0.994, 0.48), (1.001, 0.52),
         (1.008, 0.40), (1.015, 0.45), (1.022, 0.36), (1.029, 0.40), (1.035, 0.30), (1.042, 0.36),
         (1.049, 0.24), (1.056, 0.28), (1.063, 0.22), (1.070, 0.30), (1.077, 0.24), (1.084, 0.20),
         (1.090, 0.28), (1.097, 0.18), (1.104, 0.22), (1.111, 0.12), (1.118, 0.17), (1.125, 0.10),
         (1.132, 0.16), (1.139, 0.05), (1.146, 0.10), (1.153, -0.02), (1.160, -0.03)]

# ---------------- Styling ----------------
NARROW = ['Roboto Condensed', 'DejaVu Sans']
ARIAL = ['Liberation Sans', 'DejaVu Sans']
plt.rcParams['font.family'] = NARROW
plt.rcParams['mathtext.fontset'] = 'custom'
plt.rcParams['mathtext.rm'] = 'Roboto Condensed'

RED = '#ff1010'
BLUE = '#0a0aff'
RED_TXT = '#e8202a'
BLUE_TXT = '#3b2f8f'
LIGHT_BLUE = '#c5e1f5'
PEACH = '#fde0c3'

W, H = 1363, 560
fig = plt.figure(figsize=(W / 100, H / 100), dpi=100)


def px_axes(x0, y0, x1, y1):
    return fig.add_axes([x0 / W, 1 - y1 / H, (x1 - x0) / W, (y1 - y0) / H])


def ftext(x, y, s, **kw):
    kw.setdefault('ha', 'center')
    kw.setdefault('va', 'center')
    return fig.text(x / W, 1 - y / H, s, **kw)


# ---------------- Panel A ----------------
axA = px_axes(64, 51, 395, 501)
for trace, col in zip(a_traces, a_colors):
    xs, ys = np.array(trace).T
    axA.plot(xs, ys, color=col, lw=1.4)
axA.set_xlim(0.3, 1.7)
axA.set_ylim(0, 12.57)
axA.spines['left'].set_visible(False)
axA.spines['top'].set_color('#999999')
axA.spines['top'].set_linewidth(1.5)
axA.spines['right'].set_linewidth(1.3)
axA.spines['bottom'].set_linewidth(1.3)
axA.set_yticks([])
axA.set_xticks(a_fields_ticks)
axA.set_xticklabels(a_tick_labels, family=ARIAL, fontsize=13, color='#2a2a2a')
axA.tick_params(axis='x', direction='out', length=5, width=1.2, pad=6)
axA.text(0.215, 0.958, 'Absorption at\nmm-wave maximum', transform=axA.transAxes,
         ha='center', va='top', fontsize=12, fontweight='bold', linespacing=1.2)
axA.text(0.789, 0.878, 'Trapped magnons', transform=axA.transAxes,
         ha='center', va='center', fontsize=12, fontweight='bold')
ftext(30, 23, 'A', family=ARIAL, fontsize=15)
ftext(23, 276, 'CW ESR absorption', family=ARIAL, fontsize=15, rotation=90, color='#222222')
ftext(230, 548, 'Magnetic field B$_\\mathregular{0}$, G', family=ARIAL, fontsize=15, color='#222222',
      math_fontfamily='dejavusans')

# ---------------- Panel B ----------------
axB = px_axes(478, 42, 1008, 502)
axB.axvspan(*b_blue_band, color=LIGHT_BLUE, lw=0, zorder=0)
axB.axvspan(*b_orange_band, color=PEACH, lw=0, zorder=0)
bx, by = np.array(b_high).T
axB.plot(bx, by, color=RED, lw=0.9)
bx, by = np.array(b_low).T
axB.plot(bx, by, color=BLUE, lw=0.9)
axB.set_xlim(-0.8, 1.44)
axB.set_ylim(-0.4, 5.0)
axB.set_xticks(b_ticks)
axB.set_xticklabels(b_tick_labels, fontsize=14)
axB.set_yticks([0, 1, 2, 3, 4])
axB.set_yticklabels([])
axB.tick_params(direction='in', length=6, width=1.0, top=True, right=True, pad=3)
for s in axB.spines.values():
    s.set_linewidth(1.3)
axB.text(0.378, 0.928, 'Absorption at\nmm-wave maximum', transform=axB.transAxes,
         ha='center', va='center', fontsize=14.5, fontweight='bold', linespacing=1.15, color='#1a1a1a')
axB.text(0.728, 0.935, 'Trapped magnons', transform=axB.transAxes,
         ha='center', va='center', fontsize=14.5, fontweight='bold', color='#1a1a1a')
axB.text(0.017, 0.498, 'High n$_\\mathregular{H}$', transform=axB.transAxes,
         ha='left', va='center', fontsize=17, color=RED_TXT)
axB.text(0.017, 0.141, 'Low n$_\\mathregular{H}$', transform=axB.transAxes,
         ha='left', va='center', fontsize=17, color=BLUE_TXT)
ftext(486, 19, 'B', fontsize=18)
ftext(730, 23, 'Full spectra', fontsize=16)
ftext(706, 541, 'Magnetic field B$_\\mathregular{0}$, G', fontsize=17)
ylab = ftext(463, 276, 'Amplitude (arb.)', fontsize=17, rotation=90)
ylab.set_clip_box(Bbox.from_extents(457, 0, W, H))
ylab.set_clip_on(True)

# ---------------- Panel C ----------------
axC = px_axes(1019, 42, 1353, 502)
axC.set_facecolor(PEACH)
cx, cy = np.array(c_high).T
axC.plot(cx, cy, color=RED, lw=0.9)
cx, cy = np.array(c_low).T
axC.plot(cx, cy, color=BLUE, lw=0.9)
axC.set_xlim(0.12, 1.16)
axC.set_ylim(-0.5, 8.0)
axC.set_xticks(c_ticks)
axC.set_xticklabels(c_tick_labels, family=ARIAL, fontsize=13)
axC.set_yticks(range(8))
axC.set_yticklabels([])
axC.tick_params(direction='in', length=6, width=1.0, top=True, right=True, pad=3)
for s in axC.spines.values():
    s.set_linewidth(1.3)
axC.text(0.022, 0.35, 'High n$_\\mathregular{H}$', transform=axC.transAxes,
         ha='left', va='center', fontsize=17, color=RED_TXT)
axC.text(0.022, 0.093, 'Low n$_\\mathregular{H}$', transform=axC.transAxes,
         ha='left', va='center', fontsize=17, color=BLUE_TXT)
axC.text(0.955, 0.805, r'$\Delta\varphi=\pi/2$', transform=axC.transAxes, math_fontfamily='cm',
         ha='right', va='center', fontsize=16, color='#7a7266')
ftext(1029, 19, 'C', fontsize=18)
ftext(1167, 24, 'Trapped magnon spectra', fontsize=16)
ftext(1147, 543, 'Magnetic field B$_\\mathregular{0}$, G', fontsize=17)

fig.savefig('out.png', dpi=100)
